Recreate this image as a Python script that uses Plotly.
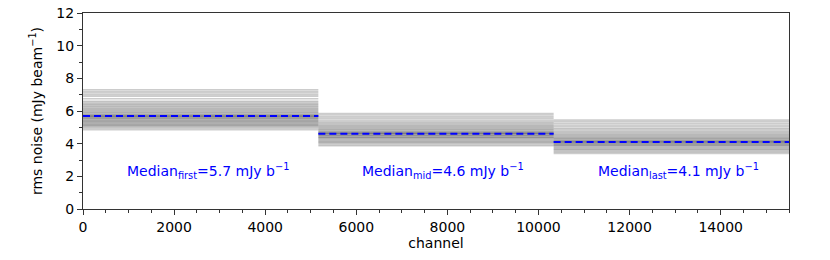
import plotly.graph_objects as go

# Channel ranges of the three spectral chunks
seg_names = ["first", "mid", "last"]
seg_starts = [0, 5167, 10333]
seg_ends = [5167, 10333, 15500]

# Per-field rms noise (mJy/beam) in each chunk
rms_first = [4.85, 4.95, 5.02, 5.08, 5.12, 5.18, 5.22, 5.28, 5.33, 5.38, 5.42, 5.47,
             5.52, 5.56, 5.6, 5.64, 5.68, 5.7, 5.73, 5.77, 5.82, 5.87, 5.92, 5.98,
             6.04, 6.1, 6.17, 6.24, 6.3, 6.38, 6.45, 6.52, 6.6, 6.75, 6.9, 7.0, 7.1, 7.2, 7.3]
rms_mid = [3.88, 3.95, 4.02, 4.08, 4.14, 4.2, 4.26, 4.31, 4.36, 4.4, 4.44, 4.48,
           4.52, 4.56, 4.6, 4.62, 4.65, 4.69, 4.73, 4.78, 4.83, 4.88, 4.94, 5.0,
           5.06, 5.12, 5.2, 5.28, 5.36, 5.45, 5.55, 5.65, 5.75, 5.85]
rms_last = [3.4, 3.48, 3.55, 3.62, 3.68, 3.74, 3.8, 3.85, 3.9, 3.94, 3.98, 4.02,
            4.06, 4.1, 4.12, 4.15, 4.19, 4.23, 4.28, 4.33, 4.38, 4.44, 4.5, 4.56,
            4.63, 4.7, 4.78, 4.86, 4.95, 5.05, 5.15, 5.25, 5.35, 5.45]
medians = [5.7, 4.6, 4.1]

x_ticks = [0, 2000, 4000, 6000, 8000, 10000, 12000, 14000]
y_ticks = [0, 2, 4, 6, 8, 10, 12]

fig = go.Figure()
for s, e, vals in zip(seg_starts, seg_ends, [rms_first, rms_mid, rms_last]):
    xs, ys = [], []
    for v in vals:
        xs += [s, e, None]
        ys += [v, v, None]
    fig.add_trace(go.Scatter(x=xs, y=ys, mode="lines",
                             line=dict(color="rgba(0,0,0,0.2)", width=1.5),
                             hoverinfo="skip", showlegend=False))

for s, e, m, name in zip(seg_starts, seg_ends, medians, seg_names):
    fig.add_trace(go.Scatter(x=[s, e], y=[m, m], mode="lines",
                             line=dict(color="#0000ff", width=2, dash="7px,4px"),
                             showlegend=False))
    fig.add_annotation(x=(s + e) / 2 + 150, y=2.33,
                       text=f"Median<sub>{name}</sub>={m} mJy b<sup>−1</sup>",
                       showarrow=False, font=dict(color="#0000ff", size=14))

axis_common = dict(showline=True, linecolor="#333", linewidth=1, mirror=True,
                   ticks="outside", ticklen=5, tickcolor="#333", showgrid=False,
                   zeroline=False, automargin=False, ticklabeloverflow="allow",
                   tickfont=dict(size=14, color="black"))
fig.update_xaxes(range=[0, 15500], tickvals=x_ticks,
                 ticktext=[str(v) for v in x_ticks],
                 minor=dict(ticks="outside", dtick=500, ticklen=3, tickcolor="#333"),
                 title=dict(text="channel", font=dict(size=14, color="black"), standoff=4),
                 **axis_common)
fig.update_yaxes(range=[0, 12], tickvals=y_ticks,
                 minor=dict(ticks="outside", dtick=1, ticklen=3, tickcolor="#333"),
                 title=dict(text="rms noise (mJy beam<sup>−1</sup>)",
                            font=dict(size=14, color="black"), standoff=10),
                 **axis_common)
fig.update_layout(width=830, height=260, plot_bgcolor="white", paper_bgcolor="white",
                  margin=dict(l=75, r=49, t=5, b=59),
                  font=dict(family="DejaVu Sans"))
fig.write_html("out.html")
